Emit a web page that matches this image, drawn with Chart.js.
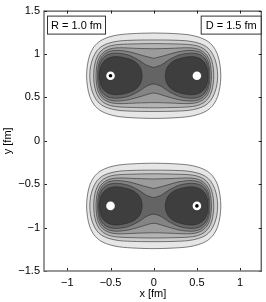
<!DOCTYPE html>
<html>
<head>
<meta charset="utf-8">
<script src="https://cdn.jsdelivr.net/npm/chart.js@4"></script>
<style>
  html, body { margin: 0; padding: 0; background: #fff; }
  #wrap { width: 266px; height: 302px; }
</style>
</head>
<body>
<div id="wrap"><canvas id="chart" width="266" height="302"></canvas></div>
<script>
const xTicks = [-1, -0.5, 0, 0.5, 1];
const yTicks = [-1.5, -1, -0.5, 0, 0.5, 1, 1.5];
const peanutY = [0.75, -0.75];

// quarter outlines of each contour level: [x, dy] from x = 0 to the outer tip
const level1 = [[0, 0.492], [0.2, 0.487], [0.4, 0.472], [0.52, 0.445], [0.62, 0.4], [0.69, 0.335], [0.74, 0.24], [0.767, 0.125], [0.777, 0]];
const level2 = [[0, 0.412], [0.2, 0.41], [0.4, 0.4], [0.52, 0.375], [0.6, 0.34], [0.66, 0.285], [0.705, 0.2], [0.732, 0.1], [0.74, 0]];
const level3 = [[0, 0.37], [0.2, 0.367], [0.4, 0.36], [0.5, 0.345], [0.58, 0.31], [0.635, 0.255], [0.672, 0.175], [0.69, 0.085], [0.695, 0]];
const level4 = [[0, 0.31], [0.2, 0.315], [0.38, 0.322], [0.48, 0.315], [0.56, 0.285], [0.615, 0.235], [0.65, 0.16], [0.664, 0.075], [0.668, 0]];
const level5 = [[0, 0.2], [0.12, 0.23], [0.28, 0.275], [0.42, 0.292], [0.52, 0.278], [0.59, 0.232], [0.628, 0.165], [0.646, 0.085], [0.65, 0]];
const level6 = [[0, 0.095], [0.08, 0.12], [0.18, 0.185], [0.3, 0.24], [0.43, 0.26], [0.53, 0.245], [0.59, 0.2], [0.625, 0.13], [0.636, 0.06], [0.638, 0]];
// upper half of one core lobe, inner tip to outer tip
const core = [[0.133, 0], [0.145, 0.07], [0.18, 0.13], [0.25, 0.18], [0.35, 0.21], [0.45, 0.22], [0.53, 0.2], [0.59, 0.15], [0.62, 0.08], [0.628, 0]];

const levelColors = ['#e6e6e6', '#cdcdcd', '#b4b4b4', '#9c9c9c', '#848484', '#646464', '#3e3e3e'];

const nucleonsX = [-0.5, 0.5, -0.5, 0.5];
const nucleonsY = [0.75, 0.75, -0.75, -0.75];
const markedX = [-0.5, 0.5];
const markedY = [0.75, -0.75];

function peanutLoop(q, cy) {
    const pts = [];
    q.forEach(p => pts.push({x: p[0], y: cy + p[1]}));
    q.slice(0, -1).reverse().forEach(p => pts.push({x: p[0], y: cy - p[1]}));
    q.slice(1).forEach(p => pts.push({x: -p[0], y: cy - p[1]}));
    q.slice(1, -1).reverse().forEach(p => pts.push({x: -p[0], y: cy + p[1]}));
    pts.push({x: q[0][0], y: cy + q[0][1]});
    return pts;
}

function lobeLoop(h, cy, side) {
    const pts = [];
    h.forEach(p => pts.push({x: side * p[0], y: cy + p[1]}));
    h.slice(1, -1).reverse().forEach(p => pts.push({x: side * p[0], y: cy - p[1]}));
    pts.push({x: side * h[0][0], y: cy + h[0][1]});
    return pts;
}

const datasets = [];
const levels = [level1, level2, level3, level4, level5, level6];

peanutY.forEach(cy => {
    levels.forEach((q, i) => {
        datasets.push({
            data: peanutLoop(q, cy),
            backgroundColor: levelColors[i],
            borderColor: '#2a2a2a',
            borderWidth: 0.6,
            fill: 'shape',
            tension: 0.3,
            pointRadius: 0,
            order: 20 - i
        });
    });
    [-1, 1].forEach(side => {
        datasets.push({
            data: lobeLoop(core, cy, side),
            backgroundColor: levelColors[6],
            borderColor: '#2a2a2a',
            borderWidth: 0.6,
            fill: 'shape',
            tension: 0.3,
            pointRadius: 0,
            order: 5
        });
    });
});

datasets.push({
    data: nucleonsX.map((x, i) => ({x: x, y: nucleonsY[i]})),
    showLine: false,
    pointRadius: 4.3,
    pointBackgroundColor: '#ffffff',
    pointBorderWidth: 0,
    order: 2
});
datasets.push({
    data: markedX.map((x, i) => ({x: x, y: markedY[i]})),
    showLine: false,
    pointRadius: 1.8,
    pointBackgroundColor: '#000000',
    pointBorderWidth: 0,
    order: 1
});

function fmt(v) {
    return v < 0 ? '\u2212' + Math.abs(v) : String(v);
}

const frame = {
    id: 'frame',
    afterDraw(chart) {
        const c = chart.ctx;
        const a = chart.chartArea;
        const sx = chart.scales.x, sy = chart.scales.y;
        c.save();
        c.lineWidth = 1;
        c.strokeStyle = '#222';
        c.beginPath();
        xTicks.forEach(v => {
            const px = Math.round(sx.getPixelForValue(v)) + 0.5;
            c.moveTo(px, a.top); c.lineTo(px, a.top + 3);
            c.moveTo(px, a.bottom); c.lineTo(px, a.bottom - 3);
        });
        yTicks.forEach(v => {
            const py = Math.round(sy.getPixelForValue(v)) + 0.5;
            c.moveTo(a.left, py); c.lineTo(a.left + 3, py);
            c.moveTo(a.right, py); c.lineTo(a.right - 3, py);
        });
        c.stroke();
        c.strokeStyle = '#777';
        c.lineWidth = 1.5;
        c.beginPath();
        c.moveTo(a.left, a.top); c.lineTo(a.left, a.bottom); c.lineTo(a.right, a.bottom);
        c.stroke();
        c.strokeStyle = '#222';
        c.lineWidth = 1;
        c.beginPath();
        c.moveTo(a.left, a.top + 0.5); c.lineTo(a.right - 0.5, a.top + 0.5); c.lineTo(a.right - 0.5, a.bottom);
        c.stroke();

        c.font = '11px "Liberation Sans", Arial, sans-serif';
        c.textBaseline = 'middle';
        c.textAlign = 'center';
        const boxes = [
            {text: 'R = 1.0 fm', x0: a.left + 3, x1: a.left + 61},
            {text: 'D = 1.5 fm', x0: a.right - 61, x1: a.right - 1}
        ];
        boxes.forEach(b => {
            c.fillStyle = '#fff';
            c.fillRect(b.x0, a.top + 5, b.x1 - b.x0, 18);
            c.strokeStyle = '#333';
            c.lineWidth = 1;
            c.strokeRect(b.x0 + 0.5, a.top + 5.5, b.x1 - b.x0, 18);
            c.fillStyle = '#000';
            c.fillText(b.text, (b.x0 + b.x1) / 2 + 0.5, a.top + 15);
        });
        c.restore();
    }
};

new Chart(document.getElementById('chart').getContext('2d'), {
    type: 'line',
    data: { datasets: datasets },
    options: {
        responsive: false,
        animation: false,
        events: [],
        layout: { padding: { left: 0, right: 3, top: 10, bottom: 0 } },
        plugins: { legend: { display: false }, tooltip: { enabled: false } },
        scales: {
            x: {
                type: 'linear',
                min: -1.27,
                max: 1.25,
                grid: { display: false, drawTicks: false },
                border: { display: false },
                afterBuildTicks: s => { s.ticks = xTicks.map(v => ({value: v})); },
                afterFit: s => { s.height = 31; },
                ticks: {
                    padding: 5,
                    color: '#000',
                    font: { family: '"Liberation Sans", Arial, sans-serif', size: 11 },
                    callback: v => fmt(v),
                    maxRotation: 0
                },
                title: {
                    display: true,
                    text: 'x [fm]',
                    color: '#000',
                    font: { family: '"Liberation Sans", Arial, sans-serif', size: 11 },
                    padding: { top: 0, bottom: 1 }
                }
            },
            y: {
                type: 'linear',
                min: -1.5,
                max: 1.5,
                grid: { display: false, drawTicks: false },
                border: { display: false },
                afterBuildTicks: s => { s.ticks = yTicks.map(v => ({value: v})); },
                afterFit: s => { s.width = 44; },
                ticks: {
                    padding: 4,
                    color: '#000',
                    font: { family: '"Liberation Sans", Arial, sans-serif', size: 11 },
                    callback: v => fmt(v)
                },
                title: {
                    display: true,
                    text: 'y [fm]',
                    color: '#000',
                    font: { family: '"Liberation Sans", Arial, sans-serif', size: 11 },
                    padding: { top: 1, bottom: 0 }
                }
            }
        }
    },
    plugins: [frame]
});
</script>
</body>
</html>
